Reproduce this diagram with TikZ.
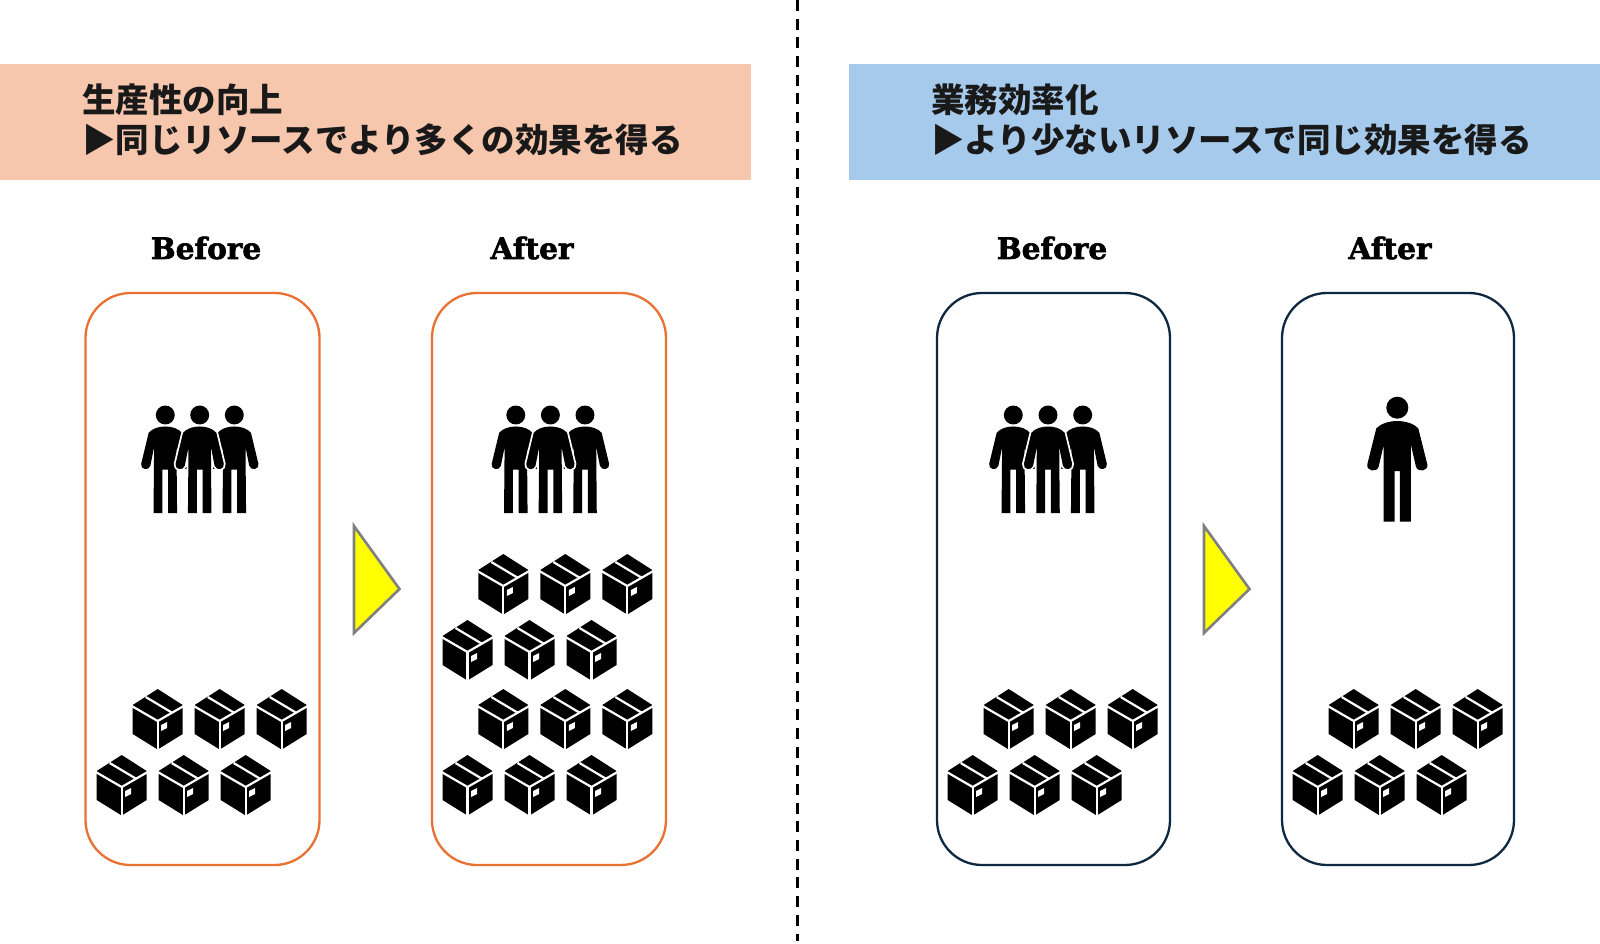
\documentclass[tikz,border=0pt]{standalone}
\usepackage{fontspec}
\newfontfamily\jpf{Noto Sans CJK JP}
\newfontfamily\slabf[BoldFeatures={FakeBold=2.2}]{DejaVu Serif}
\definecolor{bannerL}{HTML}{F6C6AD}
\definecolor{bannerR}{HTML}{A6CAEC}
\definecolor{oline}{HTML}{E97132}
\definecolor{nline}{HTML}{0E2841}
\definecolor{yel}{RGB}{255,255,0}
\newcommand{\bodypath}{(0,40) .. controls (25,40) and (50,48) .. (63,62) -- (90,170)
      .. controls (94,190) and (62,196) .. (56,177) -- (41,112) -- (41,342) -- (8,342) -- (8,190)
      -- (-8,190) -- (-8,342) -- (-41,342) -- (-41,112) -- (-56,177)
      .. controls (-62,196) and (-94,190) .. (-90,170) -- (-63,62) .. controls (-50,48) and (-25,40) .. (0,40) -- cycle}
\newcommand{\grouppath}{(0,40) .. controls (25,40) and (46,48) .. (58,62) -- (84,170)
      .. controls (88,190) and (58,196) .. (52,177) -- (39,112) -- (41,342) -- (10,342) -- (10,190)
      -- (-10,190) -- (-10,342) -- (-41,342) -- (-39,112) -- (-52,177)
      .. controls (-58,196) and (-88,190) .. (-84,170) -- (-58,62) .. controls (-46,48) and (-25,40) .. (0,40) -- cycle}
\tikzset{
  banner/.style={fill=#1,draw=none},
  bantext/.style={anchor=base west,inner sep=0,text=black!90,font=\jpf\bfseries\fontsize{33.5}{33.5}\selectfont},
  headtext/.style={anchor=center,inner sep=0,font=\slabf\bfseries\fontsize{29.5}{29.5}\selectfont},
  panel/.style={draw=#1,line width=2.3pt,rounded corners=45pt,fill=white},
  tri/.style={fill=yel,draw=black!50,line width=2.6pt,line join=miter},
  person/.pic={
    \fill[black] (0,0) circle (33);
    \fill[black] \bodypath;
  },
  gperson/.pic={
    \fill[black] (0,0) circle (33);
    \fill[black] \grouppath;
  },
  halo/.pic={
    \draw[white,line width=3.6pt,line join=round,fill=white] \grouppath;
  },
  crate/.pic={
    \fill[black] (0,-32) -- (25,-16) -- (25,13) -- (0,28.5) -- (-25,13) -- (-25,-16) -- cycle;
    \draw[white,line width=2.2pt] (-26,-15) -- (0,0) -- (26,-15);
    \draw[white,line width=2.2pt] (0,0) -- (0,30);
    \draw[white,line width=2.2pt] (-12,-24) -- (14,-8.5);
    \fill[white] (3.5,4) -- (9.5,1) -- (9.5,7) -- (3.5,10) -- cycle;
  },
}
\newcommand{\threepeople}[3]{%
  \pic[scale=0.287] at (#1,415) {gperson};
  \pic[scale=0.287] at (#3,415) {gperson};
  \pic[scale=0.287] at (#2,415) {halo};
  \pic[scale=0.287] at (#2,415) {gperson};
}
\newcommand{\cratesA}[1]{%
  \foreach \dx in {0,62,124} \pic at (#1+\dx,721) {crate};
}
\newcommand{\cratesB}[1]{%
  \foreach \dx in {0,62,124} \pic at (#1+\dx,787) {crate};
}
\begin{document}
\begin{tikzpicture}[x=1pt,y=-1pt]
\useasboundingbox (0,0) rectangle (1600,944);
\fill[white] (0,0) rectangle (1600,944);
\coordinate (dashtop) at (797.5,0);
\coordinate (dashbot) at (797.5,941);
\draw[black,line width=2.6pt,dash pattern=on 11pt off 7.67pt] (dashtop) -- (dashbot);

\path[banner=bannerL] (0,64) rectangle (751,180);
\path[banner=bannerR] (849,64) rectangle (1600,180);
\node[bantext] (t1a) at (82,112.5) {生産性の向上};
\node[bantext] (t1b) at (82,152.5) {▶同じリソースでより多くの効果を得る};
\node[bantext] (t2a) at (931,112.5) {業務効率化};
\node[bantext] (t2b) at (931,152.5) {▶より少ないリソースで同じ効果を得る};

\node[headtext] (h1) at (206,248) {Before};
\node[headtext] (h2) at (532,248) {After};
\node[headtext] (h3) at (1052,248) {Before};
\node[headtext] (h4) at (1390,248) {After};

\draw[panel=oline] (85.5,293) rectangle (319.5,865);
\draw[panel=oline] (432,293) rectangle (666,865);
\draw[panel=nline] (937,293) rectangle (1170,865);
\draw[panel=nline] (1282,293) rectangle (1514,865);

\draw[tri] (354,526) -- (399.5,589) -- (354,633) -- cycle;
\draw[tri] (1204,526) -- (1249.5,589) -- (1204,633) -- cycle;

\threepeople{165.3}{199.7}{234.3}
\threepeople{515.8}{550.4}{585}
\threepeople{1013.3}{1048}{1082.7}
\pic[scale=0.3333] at (1397.3,407.7) {person};

\cratesA{157.7}\cratesB{121.7}
\foreach \dx in {0,62,124} {\pic at (503.3+\dx,586) {crate}; \pic at (467.5+\dx,652) {crate};}
\cratesA{503.3}\cratesB{467.5}
\cratesA{1008.7}\cratesB{972.7}
\cratesA{1353.7}\cratesB{1317.7}
\end{tikzpicture}
\end{document}
